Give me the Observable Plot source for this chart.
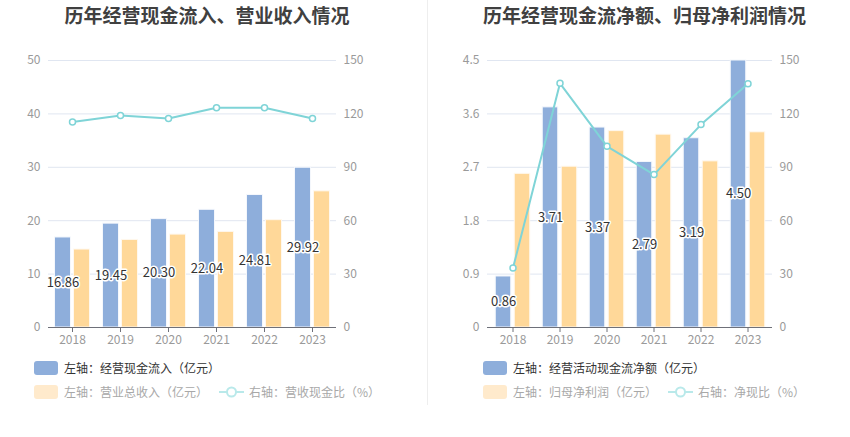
<!DOCTYPE html>
<html><head><meta charset="utf-8">
<script src="https://cdn.jsdelivr.net/npm/d3@7"></script>
<script src="https://cdn.jsdelivr.net/npm/@observablehq/plot@0.6"></script>
<style>
body{margin:0;background:#fff;font-family:"Noto Sans CJK SC","Noto Sans",sans-serif;}
#root{position:relative;width:850px;height:437px;overflow:hidden;background:#fff}
.title{position:absolute;top:0;height:29px;line-height:29px;font-size:19px;font-weight:bold;color:#404040;text-align:center;white-space:nowrap}
.plot{position:absolute;top:0}
.sw{position:absolute;width:24px;height:14px;border-radius:3px}
.lt{position:absolute;font-size:12px;line-height:16px;white-space:nowrap}
.divider{position:absolute;left:427px;top:0;width:1px;height:405px;background:#eeeeee}
</style>
</head><body>
<div id="root"></div>
<script>
const years = ["2018","2019","2020","2021","2022","2023"];
// Left panel
const cashInflow = [16.86, 19.45, 20.30, 22.04, 24.81, 29.92];
const revenue = [14.6, 16.4, 17.4, 17.9, 20.1, 25.5];
const inflowRatio = [115.5, 119.1, 117.4, 123.4, 123.4, 117.4];
const leftTicks1 = [0, 10, 20, 30, 40, 50];
// Right panel
const netCash = [0.86, 3.71, 3.37, 2.79, 3.19, 4.50];
const netProfit = [2.59, 2.71, 3.31, 3.25, 2.80, 3.29];
const netRatio = [33.4, 137.2, 101.8, 85.9, 114.0, 137.0];
const leftTicks2 = [0, 0.9, 1.8, 2.7, 3.6, 4.5];
const rightTicks = [0, 30, 60, 90, 120, 150];

const BLUE = "#8eaedb", ORANGE = "#ffd899", LINE = "#7fd4d7";
const AX = "#9a9a9a";

function makePanel({a, b, r, leftTicks, marginLeft, marginRight, width}) {
  const leftMax = leftTicks[leftTicks.length - 1];
  const rightMax = rightTicks[rightTicks.length - 1];
  const k = leftMax / rightMax;
  const data = years.map((y, i) => ({year: y, a: a[i], b: b[i], r: r[i] * k}));
  const plotW = width - marginLeft - marginRight;
  const bw = plotW / years.length;
  const ins = (bw - 16) / 2;
  return Plot.plot({
    width, height: 360,
    marginTop: 60, marginBottom: 33, marginLeft, marginRight,
    style: {fontFamily: '"Noto Sans CJK SC","Noto Sans",sans-serif', background: "transparent"},
    x: {type: "band", domain: years, padding: 0, axis: null, label: null},
    y: {domain: [0, leftMax], axis: null, label: null},
    marks: [
      Plot.ruleY(leftTicks.filter(d => d > 0), {stroke: "#e0e6f1", strokeWidth: 1}),
      Plot.barY(data, {x: "year", y: "a", fill: BLUE, stroke: "#f4f7fc", strokeWidth: 1, insetLeft: ins, insetRight: ins, dx: -9.5}),
      Plot.barY(data, {x: "year", y: "b", fill: ORANGE, stroke: "#fff8ee", strokeWidth: 1, insetLeft: ins, insetRight: ins, dx: 9.5}),
      Plot.ruleY([0], {stroke: "#6e7079", strokeWidth: 1}),
      Plot.axisX({tickSize: 5, tickPadding: 3, stroke: "#6e7079", fill: AX, color: AX, fontSize: 12, label: null}),
      Plot.axisY(leftTicks, {anchor: "left", tickSize: 0, tickPadding: 8, fill: AX, color: AX, fontSize: 12, label: null, tickFormat: d => String(d)}),
      Plot.axisY(rightTicks.map(v => v * k), {anchor: "right", tickSize: 0, tickPadding: 7, fill: AX, color: AX, fontSize: 12, label: null, tickFormat: d => String(Math.round(d / k))}),
      Plot.line(data, {x: "year", y: "r", stroke: LINE, strokeWidth: 2}),
      Plot.dot(data, {x: "year", y: "r", r: 3, fill: "#fff", stroke: LINE, strokeWidth: 1.5}),
      Plot.text(data, {x: "year", y: d => d.a / 2, text: d => d.a.toFixed(2), dx: -9.5, fill: "#333", stroke: "#fff", strokeWidth: 3, fontSize: 13})
    ]
  });
}

const root = document.getElementById("root");
function add(html){ root.insertAdjacentHTML("beforeend", html); }

// Titles
add('<div class="title" style="left:0;width:414px">历年经营现金流入、营业收入情况</div>');
add('<div class="title" style="left:430px;width:429px">历年经营现金流净额、归母净利润情况</div>');
add('<div class="divider"></div>');

const p1 = makePanel({a: cashInflow, b: revenue, r: inflowRatio, leftTicks: leftTicks1, marginLeft: 48, marginRight: 89, width: 425});
p1.classList.add("plot"); p1.style.left = "0px";
root.appendChild(p1);
const p2 = makePanel({a: netCash, b: netProfit, r: netRatio, leftTicks: leftTicks2, marginLeft: 62, marginRight: 77, width: 424});
p2.classList.add("plot"); p2.style.left = "425px";
root.appendChild(p2);

function lineIcon(left, cy){
  return `<svg style="position:absolute;left:${left}px;top:${cy-7}px" width="25" height="14"><line x1="0" y1="7" x2="25" y2="7" stroke="#b9e9ea" stroke-width="2"/><circle cx="12.5" cy="7" r="4.5" fill="#fff" stroke="#b9e9ea" stroke-width="2"/></svg>`;
}
function legend(x0, t1, t2, lineX, t3){
  add(`<div class="sw" style="left:${x0}px;top:361px;background:${BLUE}"></div>`);
  add(`<div class="lt" style="left:${x0+30}px;top:360px;color:#333">${t1}</div>`);
  add(`<div class="sw" style="left:${x0}px;top:385px;background:#ffeacc"></div>`);
  add(`<div class="lt" style="left:${x0+30}px;top:384px;color:#a8a8a8">${t2}</div>`);
  add(lineIcon(lineX, 392));
  add(`<div class="lt" style="left:${lineX+30}px;top:384px;color:#a8a8a8">${t3}</div>`);
}
legend(34, "左轴：经营现金流入（亿元）", "左轴：营业总收入（亿元）", 219, "右轴：营收现金比（%）");
legend(483, "左轴：经营活动现金流净额（亿元）", "左轴：归母净利润（亿元）", 668, "右轴：净现比（%）");
</script>
</body></html>
